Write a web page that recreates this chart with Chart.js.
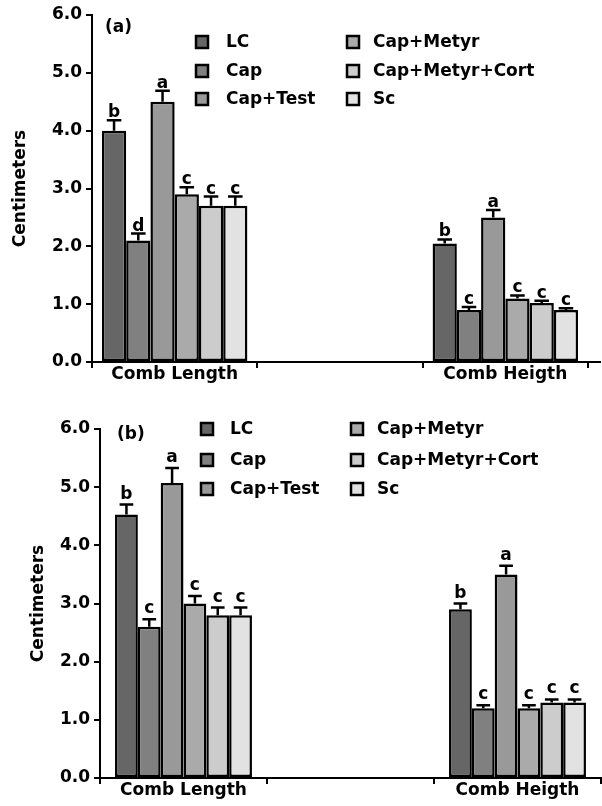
<!DOCTYPE html>
<html>
<head>
<meta charset="utf-8">
<script src="https://cdn.jsdelivr.net/npm/chart.js@4/dist/chart.umd.min.js"></script>
<style>
    body { margin: 0; background: #fff; }
    .panel { position: relative; width: 602px; height: 403px; }
</style>
</head>
<body>
<div class="panel"><canvas id="chartA"></canvas></div>
<div class="panel"><canvas id="chartB"></canvas></div>
<script>
// Data
const groupes = ['Comb Length', '', 'Comb Heigth'];
const traitements = ['LC', 'Cap', 'Cap+Test', 'Cap+Metyr', 'Cap+Metyr+Cort', 'Sc'];
const yTickLabels = ['0.0', '1.0', '2.0', '3.0', '4.0', '5.0', '6.0'];

// panel (a)
const longueurA = [4.0, 2.1, 4.5, 2.9, 2.7, 2.7];
const longueurA_err = [0.18, 0.12, 0.19, 0.12, 0.16, 0.16];
const longueurA_lettres = ['b', 'd', 'a', 'c', 'c', 'c'];
const hauteurA = [2.05, 0.9, 2.5, 1.1, 1.02, 0.9];
const hauteurA_err = [0.07, 0.05, 0.13, 0.05, 0.04, 0.03];
const hauteurA_lettres = ['b', 'c', 'a', 'c', 'c', 'c'];

// panel (b)
const longueurB = [4.53, 2.6, 5.07, 3.0, 2.8, 2.8];
const longueurB_err = [0.17, 0.13, 0.26, 0.13, 0.13, 0.13];
const longueurB_lettres = ['b', 'c', 'a', 'c', 'c', 'c'];
const hauteurB = [2.9, 1.2, 3.5, 1.2, 1.3, 1.3];
const hauteurB_err = [0.1, 0.05, 0.15, 0.05, 0.05, 0.05];
const hauteurB_lettres = ['b', 'c', 'a', 'c', 'c', 'c'];

const couleurs = ['#666666', '#808080', '#999999', '#aaaaaa', '#cccccc', '#e2e2e2'];

const FONT = 'DejaVu Sans, Arial, sans-serif';

function makeDatasets(longueur, lErr, lLet, hauteur, hErr, hLet, catPct) {
    return traitements.map((nom, i) => ({
        label: nom,
        data: [longueur[i], null, hauteur[i]],
        errors: [lErr[i], 0, hErr[i]],
        letters: [lLet[i], '', hLet[i]],
        backgroundColor: couleurs[i],
        borderColor: '#000',
        borderWidth: 2.5,
        borderSkipped: false,
        barPercentage: 1.0,
        categoryPercentage: catPct
    }));
}

// error bars, letters, legend, panel tag
function decorPlugin(cfg) {
    return {
        id: 'decor',
        afterDatasetsDraw(chart) {
            const ctx = chart.ctx;
            const yScale = chart.scales.y;
            ctx.save();
            ctx.strokeStyle = '#000';
            ctx.fillStyle = '#000';
            ctx.lineWidth = 2.5;
            ctx.font = 'bold 17px ' + FONT;
            ctx.textAlign = 'center';
            ctx.textBaseline = 'alphabetic';
            chart.data.datasets.forEach((ds, i) => {
                chart.getDatasetMeta(i).data.forEach((bar, j) => {
                    const v = ds.data[j];
                    if (v == null) return;
                    const top = yScale.getPixelForValue(v + ds.errors[j]);
                    const half = bar.width * 0.3;
                    ctx.beginPath();
                    ctx.moveTo(bar.x, bar.y);
                    ctx.lineTo(bar.x, top);
                    ctx.moveTo(bar.x - half, top);
                    ctx.lineTo(bar.x + half, top);
                    ctx.stroke();
                    ctx.fillText(ds.letters[j], bar.x, top - cfg.letterGap);
                });
            });

            // x axis runs on a bit past the last tick
            ctx.lineWidth = 2;
            if (cfg.axisEnd > chart.chartArea.right) {
                ctx.beginPath();
                ctx.moveTo(chart.chartArea.right, chart.chartArea.bottom);
                ctx.lineTo(cfg.axisEnd, chart.chartArea.bottom);
                ctx.stroke();
            }

            // panel tag
            ctx.font = 'bold 17px ' + FONT;
            ctx.textAlign = 'left';
            ctx.fillText(cfg.tag, cfg.tagX, cfg.tagY);

            // legend, 2 columns x 3 rows
            ctx.textBaseline = 'middle';
            ctx.lineWidth = 2.5;
            chart.data.datasets.forEach((ds, i) => {
                const col = Math.floor(i / 3);
                const row = i % 3;
                const cy = cfg.legRows[row];
                const sx = cfg.legBox[col];
                ctx.fillStyle = ds.backgroundColor;
                ctx.fillRect(sx, cy - 7, 14, 14);
                ctx.strokeRect(sx + 1, cy - 6, 12, 12);
                ctx.fillStyle = '#000';
                ctx.fillText(ds.label, cfg.legText[col], cy + 1);
            });
            ctx.restore();
        }
    };
}

function makeChart(id, datasets, cfg) {
    const ctx = document.getElementById(id).getContext('2d');
    return new Chart(ctx, {
        type: 'bar',
        data: { labels: groupes, datasets: datasets },
        options: {
            responsive: true,
            maintainAspectRatio: false,
            animation: false,
            layout: { padding: { top: cfg.top, right: 602 - cfg.right, left: 0, bottom: 0 } },
            plugins: {
                legend: { display: false },
                tooltip: { enabled: false }
            },
            scales: {
                x: {
                    grid: { offset: true, drawOnChartArea: false, color: '#000', lineWidth: 2, tickLength: 6 },
                    border: { display: true, color: '#000', width: 2 },
                    ticks: {
                        color: '#000',
                        font: { family: FONT, size: 17, weight: 'bold' },
                        autoSkip: false,
                        maxRotation: 0,
                        padding: -4
                    },
                    afterFit: function(scale) { scale.height = 403 - cfg.bottom; }
                },
                y: {
                    min: 0,
                    max: 6,
                    grid: { drawOnChartArea: false, color: '#000', lineWidth: 2, tickLength: 6 },
                    border: { display: true, color: '#000', width: 2 },
                    ticks: {
                        stepSize: 1,
                        color: '#000',
                        padding: 4,
                        font: { family: FONT, size: 17, weight: 'bold' },
                        callback: function(value) { return yTickLabels[value]; }
                    },
                    title: {
                        display: true,
                        text: 'Centimeters',
                        color: '#000',
                        font: { family: FONT, size: 17, weight: 'bold', lineHeight: 1.2 },
                        padding: { top: cfg.titlePad, bottom: 0 }
                    },
                    afterFit: function(scale) { scale.width = cfg.left; }
                }
            }
        },
        plugins: [decorPlugin(cfg)]
    });
}

makeChart('chartA',
    makeDatasets(longueurA, longueurA_err, longueurA_lettres, hauteurA, hauteurA_err, hauteurA_lettres, 0.88),
    { left: 92, top: 15, right: 588, bottom: 362, titlePad: 10, letterGap: 3, axisEnd: 601,
      tag: '(a)', tagX: 105, tagY: 32,
      legRows: [42, 71, 99], legBox: [195, 346], legText: [226, 373] });

makeChart('chartB',
    makeDatasets(longueurB, longueurB_err, longueurB_lettres, hauteurB, hauteurB_err, hauteurB_lettres, 0.82),
    { left: 100, top: 26, right: 601, bottom: 375, titlePad: 28, letterGap: 6, axisEnd: 601,
      tag: '(b)', tagX: 117, tagY: 36,
      legRows: [26, 57, 86], legBox: [200, 350], legText: [230, 377] });
</script>
</body>
</html>
